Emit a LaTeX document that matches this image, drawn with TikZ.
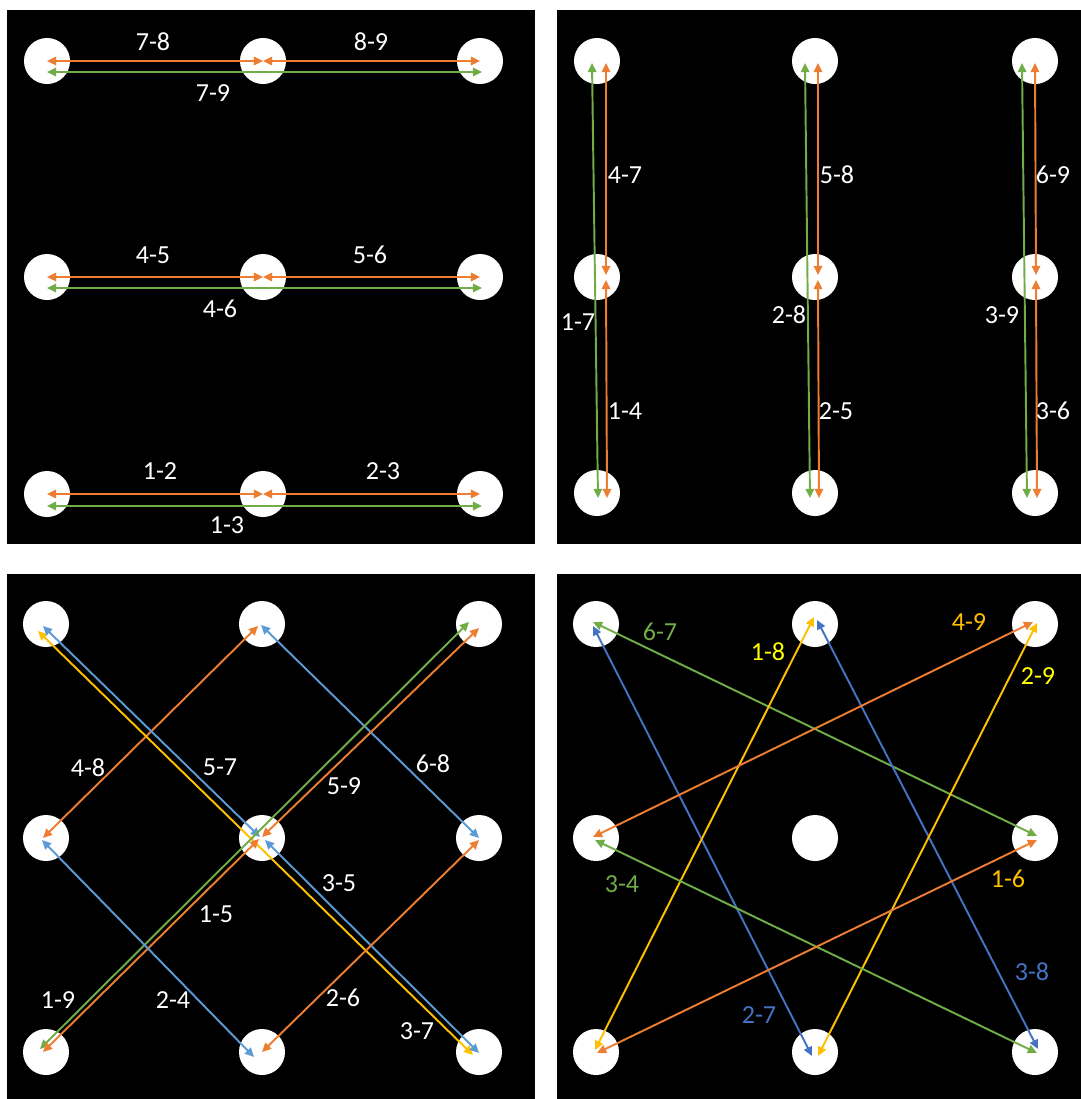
\documentclass[tikz,border=0pt]{standalone}
\usepackage{fontspec}
\setmainfont{Carlito}
\usetikzlibrary{arrows.meta}
\definecolor{cOr}{HTML}{ED7D31}
\definecolor{cGr}{HTML}{70AD47}
\definecolor{cBl}{HTML}{5B9BD5}
\definecolor{cBd}{HTML}{4472C4}
\definecolor{cYe}{HTML}{FFC000}
\definecolor{cYl}{HTML}{FFFF00}

\begin{document}
\begin{tikzpicture}[
  x=0.01cm, y=-0.01cm,
  font=\fontsize{7.4}{8}\selectfont,
  peg/.style={circle, fill=white, minimum size=4.6mm, inner sep=0pt},
  arr/.style={{Triangle[length=2.6pt,width=2.4pt]}-{Triangle[length=2.6pt,width=2.4pt]}, line width=0.55pt},
  lbl/.style={text=white, inner sep=0pt},
  panel/.style={fill=black}
]
\fill[white] (0,0) rectangle (1081,1099);
\fill[panel] (7,10) rectangle (535,544);
\fill[panel] (557,10) rectangle (1081,544);
\fill[panel] (7,574) rectangle (535,1099);
\fill[panel] (557,574) rectangle (1081,1099);

% rows
\node[peg] (a7) at (47,61) {};  \node[peg] (a8) at (263,61) {};  \node[peg] (a9) at (480,61) {};
\node[peg] (a4) at (47,277) {}; \node[peg] (a5) at (263,277) {}; \node[peg] (a6) at (480,277) {};
\node[peg] (a1) at (47,494) {}; \node[peg] (a2) at (263,494) {}; \node[peg] (a3) at (480,494) {};
\draw[arr, cOr] (a7.center) -- (a8.center);
\draw[arr, cOr] (a8.center) -- (a9.center);
\draw[arr, cGr] ([shift={(0,11)}]a7.center) -- ([shift={(2,11)}]a9.center);
\draw[arr, cOr] (a4.center) -- (a5.center);
\draw[arr, cOr] (a5.center) -- (a6.center);
\draw[arr, cGr] ([shift={(0,11)}]a4.center) -- ([shift={(2,11)}]a6.center);
\draw[arr, cOr] (a1.center) -- (a2.center);
\draw[arr, cOr] (a2.center) -- (a3.center);
\draw[arr, cGr] ([shift={(0,12)}]a1.center) -- ([shift={(2,12)}]a3.center);
\node[lbl] (ta78) at (153,42) {7-8};
\node[lbl] (ta89) at (371,42) {8-9};
\node[lbl] (ta79) at (213,93) {7-9};
\node[lbl] (ta45) at (153,255) {4-5};
\node[lbl] (ta56) at (370,255) {5-6};
\node[lbl] (ta46) at (220,309) {4-6};
\node[lbl] (ta12) at (160,471) {1-2};
\node[lbl] (ta23) at (383,471) {2-3};
\node[lbl] (ta13) at (227,525) {1-3};

% columns
\node[peg] (b7) at (597,61) {};  \node[peg] (b8) at (815,61) {};  \node[peg] (b9) at (1035,61) {};
\node[peg] (b4) at (597,277) {}; \node[peg] (b5) at (815,277) {}; \node[peg] (b6) at (1035,277) {};
\node[peg] (b1) at (597,493) {}; \node[peg] (b2) at (815,493) {}; \node[peg] (b3) at (1035,493) {};
\draw[arr, cOr] ([shift={(9,2)}]b7.center) -- ([shift={(9,-2)}]b4.center);
\draw[arr, cOr] ([shift={(9,3)}]b4.center) -- ([shift={(10,5)}]b1.center);
\draw[arr, cGr] ([shift={(1,5)}]b1.center) -- ([shift={(-5,2)}]b7.center);
\draw[arr, cOr] ([shift={(3,2)}]b8.center) -- ([shift={(3,-2)}]b5.center);
\draw[arr, cOr] ([shift={(3,3)}]b5.center) -- ([shift={(4,5)}]b2.center);
\draw[arr, cGr] ([shift={(-5,5)}]b2.center) -- ([shift={(-10,2)}]b8.center);
\draw[arr, cOr] ([shift={(0,2)}]b9.center) -- ([shift={(1,-2)}]b6.center);
\draw[arr, cOr] ([shift={(1,3)}]b6.center) -- ([shift={(2,5)}]b3.center);
\draw[arr, cGr] ([shift={(-8,5)}]b3.center) -- ([shift={(-13,2)}]b9.center);
\node[lbl] (tb47) at (625,175) {4-7};
\node[lbl] (tb58) at (837,175) {5-8};
\node[lbl] (tb69) at (1053,175) {6-9};
\node[lbl] (tb17) at (578,322) {1-7};
\node[lbl] (tb28) at (789,315) {2-8};
\node[lbl] (tb39) at (1002,315) {3-9};
\node[lbl] (tb14) at (625,411) {1-4};
\node[lbl] (tb25) at (836,411) {2-5};
\node[lbl] (tb36) at (1053,411) {3-6};

% diagonals
\node[peg] (c7) at (46,624) {};  \node[peg] (c8) at (262,624) {};  \node[peg] (c9) at (479,624) {};
\node[peg] (c4) at (46,838) {};  \node[peg] (c5) at (262,838) {};  \node[peg] (c6) at (479,838) {};
\node[peg] (c1) at (46,1052) {}; \node[peg] (c2) at (262,1052) {}; \node[peg] (c3) at (479,1052) {};
\draw[arr, cOr] ([shift={(-3,0)}]c4.center) -- ([shift={(-4,2)}]c8.center);
\draw[arr, cBl] ([shift={(-1,1)}]c8.center) -- (c6.center);
\draw[arr, cYe] ([shift={(-8,7)}]c7.center) -- ([shift={(-6,3)}]c3.center);
\draw[arr, cBl] ([shift={(-3,2)}]c7.center) -- ([shift={(-2,-1)}]c5.center);
\draw[arr, cBl] ([shift={(3,2)}]c5.center) -- ([shift={(0,1)}]c3.center);
\draw[arr, cGr] ([shift={(-10,-2)}]c9.center) -- ([shift={(-6,-3)}]c1.center);
\draw[arr, cOr] ([shift={(0,-1)}]c5.center) -- ([shift={(0,4)}]c9.center);
\draw[arr, cOr] ([shift={(-3,0)}]c1.center) -- ([shift={(-3,1)}]c5.center);
\draw[arr, cBl] ([shift={(-4,2)}]c4.center) -- ([shift={(-8,5)}]c2.center);
\draw[arr, cOr] (c2.center) -- ([shift={(0,2)}]c6.center);
\node[lbl] (tc48) at (88,768) {4-8};
\node[lbl] (tc57) at (220,767) {5-7};
\node[lbl] (tc68) at (433,764) {6-8};
\node[lbl] (tc59) at (344,786) {5-9};
\node[lbl] (tc35) at (339,883) {3-5};
\node[lbl] (tc15) at (216,914) {1-5};
\node[lbl] (tc19) at (58,1000) {1-9};
\node[lbl] (tc24) at (173,1000) {2-4};
\node[lbl] (tc26) at (343,998) {2-6};
\node[lbl] (tc37) at (417,1031) {3-7};

% knight moves
\node[peg] (d7) at (596,624) {};  \node[peg] (d8) at (815,624) {};  \node[peg] (d9) at (1035,624) {};
\node[peg] (d4) at (596,838) {};  \node[peg] (d5) at (815,838) {};  \node[peg] (d6) at (1035,838) {};
\node[peg] (d1) at (596,1052) {}; \node[peg] (d2) at (815,1052) {}; \node[peg] (d3) at (1035,1052) {};
\draw[arr, cGr] ([shift={(-3,-2)}]d7.center) -- ([shift={(2,-2)}]d6.center);
\draw[arr, cBd] ([shift={(-3,2)}]d7.center) -- ([shift={(-3,4)}]d2.center);
\draw[arr, cYe] ([shift={(-1,-7)}]d8.center) -- ([shift={(-1,-2)}]d1.center);
\draw[arr, cBd] ([shift={(2,-4)}]d8.center) -- ([shift={(3,-3)}]d3.center);
\draw[arr, cOr] ([shift={(-2,-2)}]d9.center) -- ([shift={(-3,-1)}]d4.center);
\draw[arr, cYe] ([shift={(2,-1)}]d9.center) -- ([shift={(3,4)}]d2.center);
\draw[arr, cGr] ([shift={(-1,2)}]d4.center) -- ([shift={(2,1)}]d3.center);
\draw[arr, cOr] ([shift={(2,2)}]d6.center) -- ([shift={(1,1)}]d1.center);
\node[lbl, text=cGr] (td67) at (660,632) {6-7};
\node[lbl, text=cYl] (td18) at (768,652) {1-8};
\node[lbl, text=cYe] (td49) at (969,622) {4-9};
\node[lbl, text=cYl] (td29) at (1038,676) {2-9};
\node[lbl, text=cGr] (td34) at (622,884) {3-4};
\node[lbl, text=cYe] (td16) at (1008,879) {1-6};
\node[lbl, text=cBd] (td38) at (1032,972) {3-8};
\node[lbl, text=cBd] (td27) at (759,1015) {2-7};
\end{tikzpicture}
\end{document}
